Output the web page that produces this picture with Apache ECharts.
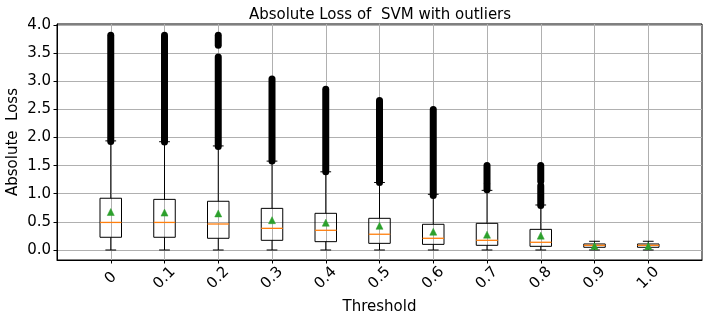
<!DOCTYPE html>
<html>
<head>
<meta charset="utf-8">
<script src="https://cdn.jsdelivr.net/npm/echarts@6/dist/echarts.min.js"></script>
<style>
  html, body { margin: 0; padding: 0; background: #fff; }
  #chart { width: 712px; height: 321px; }
</style>
</head>
<body>
<div id="chart"></div>
<script>
// thresholds on the x axis
var thresholds = ['0', '0.1', '0.2', '0.3', '0.4', '0.5', '0.6', '0.7', '0.8', '0.9', '1.0'];

// box statistics
var q1 =          [0.226, 0.226, 0.208, 0.172, 0.148, 0.118, 0.100, 0.083, 0.065, 0.048, 0.048];
var medians =     [0.490, 0.490, 0.462, 0.385, 0.350, 0.280, 0.208, 0.172, 0.137, 0.083, 0.083];
var q3 =          [0.920, 0.900, 0.866, 0.740, 0.652, 0.563, 0.457, 0.474, 0.367, 0.107, 0.107];
var means =       [0.675, 0.665, 0.650, 0.530, 0.485, 0.430, 0.325, 0.272, 0.255, 0.070, 0.070];
var whiskerLow =  [0, 0, 0, 0, 0, 0, 0, 0, 0, 0, 0];
var whiskerHigh = [1.94, 1.925, 1.85, 1.58, 1.39, 1.20, 0.99, 1.06, 0.80, 0.155, 0.155];

// outliers are so dense they read as solid runs: [from, to] per run
var outlierRuns = [
    [[1.93, 3.82]],
    [[1.92, 3.82]],
    [[1.84, 3.43], [3.64, 3.82]],
    [[1.58, 3.04]],
    [[1.39, 2.86]],
    [[1.20, 2.66]],
    [[0.97, 2.50]],
    [[1.07, 1.16], [1.20, 1.50]],
    [[0.79, 1.14], [1.22, 1.50]],
    [],
    []
];

var yTicks = [0, 0.5, 1, 1.5, 2, 2.5, 3, 3.5, 4];
var xTicks = thresholds.map(function (t, i) { return i; });

var font = 'DejaVu Sans';

function renderBox(params, api) {
    var i = api.value(0);
    var unit = api.size([1, 0])[0];
    var half = unit * 0.2;
    var capHalf = half / 2;
    var x = api.coord([i, 0])[0];
    function y(v) { return api.coord([i, v])[1]; }
    var black = { stroke: '#000', lineWidth: 1, fill: null };
    var children = [];

    outlierRuns[i].forEach(function (run) {
        children.push({
            type: 'line',
            shape: { x1: x, y1: y(run[0]), x2: x, y2: y(run[1]) },
            style: { stroke: '#000', lineWidth: 7, lineCap: 'round' }
        });
    });

    // whiskers
    children.push({ type: 'line', shape: { x1: x, y1: y(q3[i]), x2: x, y2: y(whiskerHigh[i]) }, style: black });
    children.push({ type: 'line', shape: { x1: x, y1: y(q1[i]), x2: x, y2: y(whiskerLow[i]) }, style: black });
    // caps
    children.push({ type: 'line', shape: { x1: x - capHalf, y1: y(whiskerHigh[i]), x2: x + capHalf, y2: y(whiskerHigh[i]) }, style: black });
    children.push({ type: 'line', shape: { x1: x - capHalf, y1: y(whiskerLow[i]), x2: x + capHalf, y2: y(whiskerLow[i]) }, style: black });
    // box
    var top = y(q3[i]), bottom = y(q1[i]);
    children.push({
        type: 'rect',
        shape: { x: x - half, y: top, width: half * 2, height: bottom - top },
        style: { stroke: '#000', lineWidth: 1, fill: null }
    });
    // median
    children.push({
        type: 'line',
        shape: { x1: x - half, y1: y(medians[i]), x2: x + half, y2: y(medians[i]) },
        style: { stroke: '#ff7f0e', lineWidth: 1.3 }
    });
    // mean marker
    var ym = y(means[i]);
    children.push({
        type: 'polygon',
        shape: { points: [[x, ym - 3.5], [x - 3.5, ym + 3.5], [x + 3.5, ym + 3.5]] },
        style: { fill: '#2ca02c', stroke: '#2ca02c', lineWidth: 0.5 }
    });

    return { type: 'group', children: children };
}

var chart = echarts.init(document.getElementById('chart'));

var option = {
    backgroundColor: '#fff',
    animation: false,
    textStyle: { fontFamily: font },
    title: {
        text: 'Absolute Loss of  SVM with outliers',
        left: 375,
        top: 3,
        textAlign: 'center',
        textStyle: { fontFamily: font, fontSize: 15, fontWeight: 'normal', color: '#000' }
    },
    grid: {
        left: 57, right: 10, top: 24, bottom: 61,
        outerBoundsMode: 'none',
        containLabel: false,
        show: true, borderColor: '#000', borderWidth: 1
    },
    xAxis: {
        type: 'value',
        min: -1,
        max: 11,
        interval: 1,
        name: 'Threshold',
        nameLocation: 'middle',
        nameGap: 40,
        nameMoveOverlap: false,
        nameTextStyle: { fontFamily: font, fontSize: 15, color: '#000' },
        axisLine: { onZero: false, lineStyle: { color: '#000', width: 1 } },
        axisTick: { show: true, length: 3.5, customValues: xTicks, lineStyle: { color: '#000' } },
        axisLabel: {
            customValues: xTicks,
            rotate: 45,
            align: 'center',
            verticalAlign: 'middle',
            margin: 18,
            fontFamily: font,
            fontSize: 15,
            color: '#000',
            formatter: function (v) { return thresholds[v] !== undefined ? thresholds[v] : ''; }
        },
        splitLine: { show: true, lineStyle: { color: '#b0b0b0', width: 1 } }
    },
    yAxis: {
        type: 'value',
        min: -0.178,
        max: 4.018,
        name: 'Absolute  Loss',
        nameLocation: 'middle',
        nameGap: 36,
        nameMoveOverlap: false,
        nameTextStyle: { fontFamily: font, fontSize: 15, color: '#000' },
        axisLine: { show: true, onZero: false, lineStyle: { color: '#000', width: 1 } },
        axisTick: { show: true, length: 3.5, customValues: yTicks, lineStyle: { color: '#000' } },
        axisLabel: {
            customValues: yTicks,
            margin: 6,
            fontFamily: font,
            fontSize: 15,
            color: '#000',
            formatter: function (v) { return v.toFixed(1); }
        },
        splitLine: { show: true, lineStyle: { color: '#b0b0b0', width: 1 } }
    },
    series: [{
        type: 'custom',
        renderItem: renderBox,
        encode: { x: 0, y: [1, 2] },
        data: thresholds.map(function (t, i) { return [i, whiskerLow[i], whiskerHigh[i]]; }),
        z: 5
    }]
};

chart.setOption(option);
</script>
</body>
</html>
